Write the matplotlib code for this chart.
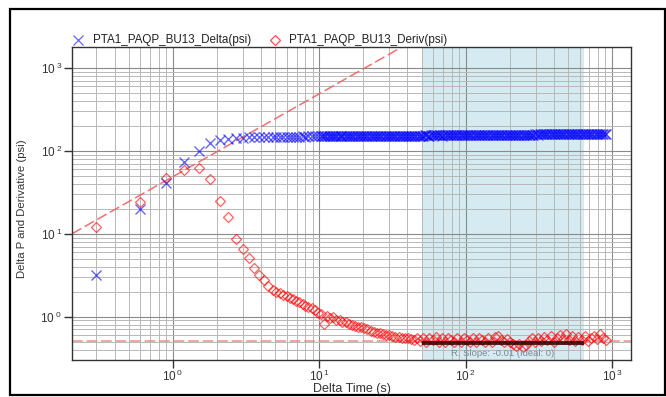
import math
import matplotlib
matplotlib.use('Agg')
import matplotlib.pyplot as plt
from matplotlib.lines import Line2D
from matplotlib.patches import Rectangle
from matplotlib.ticker import LogLocator, FuncFormatter, NullFormatter

plt.rcParams['font.family'] = ['Liberation Sans', 'DejaVu Sans']
plt.rcParams['mathtext.fontset'] = 'custom'
plt.rcParams['mathtext.rm'] = 'Liberation Sans'
plt.rcParams['mathtext.it'] = 'Liberation Sans:italic'
plt.rcParams['mathtext.bf'] = 'Liberation Sans:bold'

# ---------------- data ----------------
time_s = [
    0.3, 0.6, 0.9, 1.2, 1.5, 1.8, 2.1, 2.4, 2.7, 3.0,
    3.3, 3.6, 3.9, 4.2, 4.5, 4.8, 5.1, 5.4, 5.7, 6.0,
    6.3, 6.6, 6.9, 7.3, 7.7, 8.0, 8.4, 8.9, 9.3, 9.8,
    10.3, 10.8, 11.3, 11.9, 12.5, 13.1, 13.8, 14.4, 15.2, 15.9,
    16.7, 17.6, 18.4, 19.4, 20.3, 21.3, 22.4, 23.5, 24.7, 25.9,
    27.2, 28.6, 30.0, 31.5, 33.1, 34.8, 36.5, 38.3, 40.2, 42.2,
    44.3, 46.6, 48.9, 51.3, 53.9, 56.6, 59.4, 62.4, 65.5, 68.8,
    72.2, 75.9, 79.6, 83.6, 87.8, 92.2, 96.8, 101.6, 106.7, 112.1,
    117.7, 123.5, 129.7, 136.2, 143.0, 150.2, 157.7, 165.5, 173.8, 182.5,
    191.6, 201.2, 211.3, 221.8, 232.9, 244.6, 256.8, 269.6, 283.1, 297.3,
    312.1, 327.7, 344.1, 361.3, 379.4, 398.4, 418.3, 439.2, 461.2, 484.2,
    508.4, 533.9, 560.6, 588.6, 618.0, 648.9, 681.4, 715.4, 751.2, 788.8,
    828.2, 869.6, 913.1,
]

delta_psi = [
    3.2, 19.9, 41.3, 72.8, 100, 124, 135, 140, 142, 144,
    145, 146, 147, 147, 148, 148, 148, 149, 149, 149,
    149, 149, 149, 149, 150, 149, 150, 150, 150, 150,
    150, 150, 150, 151, 150, 151, 151, 151, 151, 151,
    151, 151, 152, 151, 152, 152, 152, 152, 152, 152,
    152, 152, 153, 152, 153, 153, 153, 153, 153, 153,
    153, 153, 153, 153, 154, 153, 154, 154, 154, 153,
    154, 154, 154, 154, 154, 154, 154, 154, 154, 154,
    154, 154, 154, 154, 155, 154, 155, 155, 155, 155,
    155, 155, 155, 155, 155, 155, 157, 157, 157, 158,
    157, 158, 158, 158, 158, 158, 158, 158, 158, 158,
    158, 158, 158, 158, 159, 158, 158, 159, 158, 158,
    158, 159, 158,
]

# extra Delta samples (Delta P is logged much more densely than the derivative)
delta_extra_time_s = [
    10.5, 11.0, 11.6, 12.2, 12.8, 13.4, 14.1, 14.8, 15.5, 16.3,
    17.1, 18.0, 18.9, 19.8, 20.8, 21.8, 22.9, 24.1, 25.3, 26.5,
    27.9, 29.3, 30.7, 32.3, 33.9, 35.6, 37.4, 39.2, 41.2, 43.2,
    45.4, 47.7, 50.1, 52.6, 55.2, 58.0, 60.9, 63.9, 67.1, 70.5,
    74.0, 77.7, 81.6, 85.7, 90.0, 94.5, 99.2, 104.1, 109.4, 114.9,
    120.6, 126.6, 132.9, 139.6, 146.6, 153.9, 161.6, 169.6, 178.1, 187.0,
    196.3, 206.2, 216.5, 227.3, 238.7, 250.6, 263.1, 276.3, 290.1, 304.6,
    319.8, 335.8, 352.6, 370.2, 388.8, 408.2, 428.6, 450.1, 472.6, 496.2,
    521.0, 547.1, 574.4, 603.1, 633.3, 664.9, 698.2, 733.1, 769.8, 808.3,
    848.7, 891.1,
]

delta_extra_psi = [
    150, 150, 151, 150, 151, 151, 151, 151, 151, 151,
    151, 152, 151, 152, 152, 152, 152, 152, 152, 152,
    152, 153, 153, 153, 153, 153, 153, 153, 153, 153,
    153, 153, 153, 154, 153, 154, 154, 154, 154, 154,
    154, 154, 154, 154, 154, 154, 154, 154, 154, 154,
    154, 154, 154, 155, 154, 155, 155, 155, 155, 155,
    155, 155, 155, 155, 155, 156, 157, 157, 157, 158,
    158, 158, 158, 158, 158, 158, 158, 158, 158, 158,
    158, 158, 158, 159, 158, 158, 159, 158, 158, 158,
    159, 158,
]

deriv_psi = [
    12.0, 24.4, 46.7, 58.9, 61.7, 45.4, 24.9, 15.8, 8.6, 6.5,
    5.06, 3.90, 3.18, 2.77, 2.35, 2.10, 2.00, 1.93, 1.84, 1.76,
    1.70, 1.62, 1.55, 1.49, 1.42, 1.36, 1.32, 1.26, 1.20, 1.12,
    1.08, 0.81, 1.02, 0.96, 0.98, 0.92, 0.90, 0.86, 0.87, 0.82,
    0.80, 0.78, 0.76, 0.74, 0.72, 0.71, 0.67, 0.66, 0.64, 0.63,
    0.62, 0.60, 0.60, 0.58, 0.57, 0.57, 0.56, 0.55, 0.55, 0.54,
    0.53, 0.56, 0.51, 0.55, 0.50, 0.56, 0.52, 0.57, 0.50, 0.55,
    0.49, 0.56, 0.52, 0.49, 0.55, 0.50, 0.56, 0.52, 0.49, 0.55,
    0.50, 0.56, 0.52, 0.49, 0.55, 0.50, 0.57, 0.58, 0.52, 0.49,
    0.54, 0.50, 0.47, 0.44, 0.47, 0.43, 0.46, 0.51, 0.55, 0.49,
    0.56, 0.51, 0.57, 0.52, 0.58, 0.50, 0.56, 0.60, 0.54, 0.62,
    0.52, 0.59, 0.51, 0.57, 0.53, 0.58, 0.51, 0.55, 0.59, 0.54,
    0.61, 0.56, 0.53,
]

series_names = ['PTA1_PAQP_BU13_Delta(psi)', 'PTA1_PAQP_BU13_Deriv(psi)']
x_label = 'Delta Time (s)'
y_label = 'Delta P and Derivative (psi)'
x_limits = [0.205, 1345]
y_limits = [0.30, 1790]
fit_window_s = [50, 640]
fit_level_psi = 0.487
stab_level_psi = 0.509
unit_slope_psi_at_1s = 48.8
fit_note = 'R. Slope: -0.01 (Ideal: 0)'
fit_note_pos = [180, 0.355]

# ---------------- figure ----------------
W, H = 666, 397
fig = plt.figure(figsize=(W / 100, H / 100), dpi=100)
ax = fig.add_axes([72 / W, (H - 360) / H, (631 - 72) / W, (360 - 47) / H])
ax.set_xscale('log')
ax.set_yscale('log')
ax.set_xlim(*x_limits)
ax.set_ylim(*y_limits)

# shaded analysis window
ax.axvspan(fit_window_s[0], fit_window_s[1], color='#d5eaf1', zorder=0.2, lw=0)

# grid
ax.set_axisbelow(True)
ax.xaxis.set_major_locator(LogLocator(base=10, numticks=20))
ax.yaxis.set_major_locator(LogLocator(base=10, numticks=20))
ax.xaxis.set_minor_locator(LogLocator(base=10, subs=range(2, 10), numticks=50))
ax.yaxis.set_minor_locator(LogLocator(base=10, subs=range(2, 10), numticks=50))
ax.xaxis.set_minor_formatter(NullFormatter())
ax.yaxis.set_minor_formatter(NullFormatter())
ax.grid(which='major', color='#8a8a8a', lw=0.8)
ax.grid(which='minor', color='#b8b8b8', lw=0.7)


def fmt_y(v, pos):
    e = int(round(math.log10(v)))
    return r'$\mathregular{10^{\ %d}}$' % e


def fmt_x(v, pos):
    e = int(round(math.log10(v)))
    return r'$\mathregular{10^{\,%d}}$' % e


ax.yaxis.set_major_formatter(FuncFormatter(fmt_y))
ax.xaxis.set_major_formatter(FuncFormatter(fmt_x))
ax.tick_params(which='major', direction='out', length=5.5, width=1.0,
               color='#333333', labelsize=8.5, labelcolor='#333333', pad=1.5)
ax.tick_params(which='minor', length=0)
ax.tick_params(axis='x', pad=0.5)
for s in ax.spines.values():
    s.set_color('#333333')
    s.set_linewidth(1.0)

# reference lines
ax.axhline(stab_level_psi, color='#e88080', lw=1.1, ls=(0, (7, 2.5)), zorder=1.5, alpha=0.9)
ax.plot(x_limits, [unit_slope_psi_at_1s * x_limits[0], unit_slope_psi_at_1s * x_limits[1]],
        color='#f06060', lw=1.1, ls=(0, (7, 2.5)), zorder=1.5, alpha=0.9)

# data
ax.plot(time_s, delta_psi, ls='none', marker='x', ms=6.6, mew=1.0,
        color='blue', alpha=0.6, zorder=2)
ax.plot(delta_extra_time_s, delta_extra_psi, ls='none', marker='x', ms=6.6, mew=1.0,
        color='blue', alpha=0.6, zorder=2)
ax.plot(time_s, deriv_psi, ls='none', marker='D', ms=4.6, mew=0.9,
        mfc='none', mec='red', alpha=0.62, zorder=2.5)

# fit line
ax.plot(fit_window_s, [fit_level_psi, fit_level_psi], color='#3a0505', lw=2.8,
        solid_capstyle='butt', zorder=3, alpha=0.9)
ax.text(fit_note_pos[0], fit_note_pos[1], fit_note, fontsize=6.8, color='#7d8a96',
        ha='center', va='center', zorder=3)

# labels
fig.text(352 / W, 1 - 389 / H, x_label, fontsize=9, color='#333333', ha='center', va='center')
fig.text(22.5 / W, 1 - 209 / H, y_label, fontsize=8.2, color='#333333', ha='center',
         va='center', rotation=90)

# legend (manual, above plot)
ly = 1 - 40 / H
fig.add_artist(Line2D([78 / W], [ly], transform=fig.transFigure, ls='none', marker='x',
                      ms=7, mew=0.9, color='blue', alpha=0.6))
fig.text(93 / W, ly, series_names[0], fontsize=8.4, color='#222222', ha='left', va='center')
fig.add_artist(Line2D([275 / W], [ly], transform=fig.transFigure, ls='none', marker='D',
                      ms=5, mew=0.9, mfc='none', mec='red', alpha=0.7))
fig.text(289 / W, ly, series_names[1], fontsize=8.4, color='#222222', ha='left', va='center')

# outer frame
fig.add_artist(Rectangle((10.5 / W, 2 / H), (664.5 - 10.5) / W, (395 - 9) / H,
                         transform=fig.transFigure, fill=False, ec='black', lw=1.6))

fig.savefig('out.png', dpi=100)
